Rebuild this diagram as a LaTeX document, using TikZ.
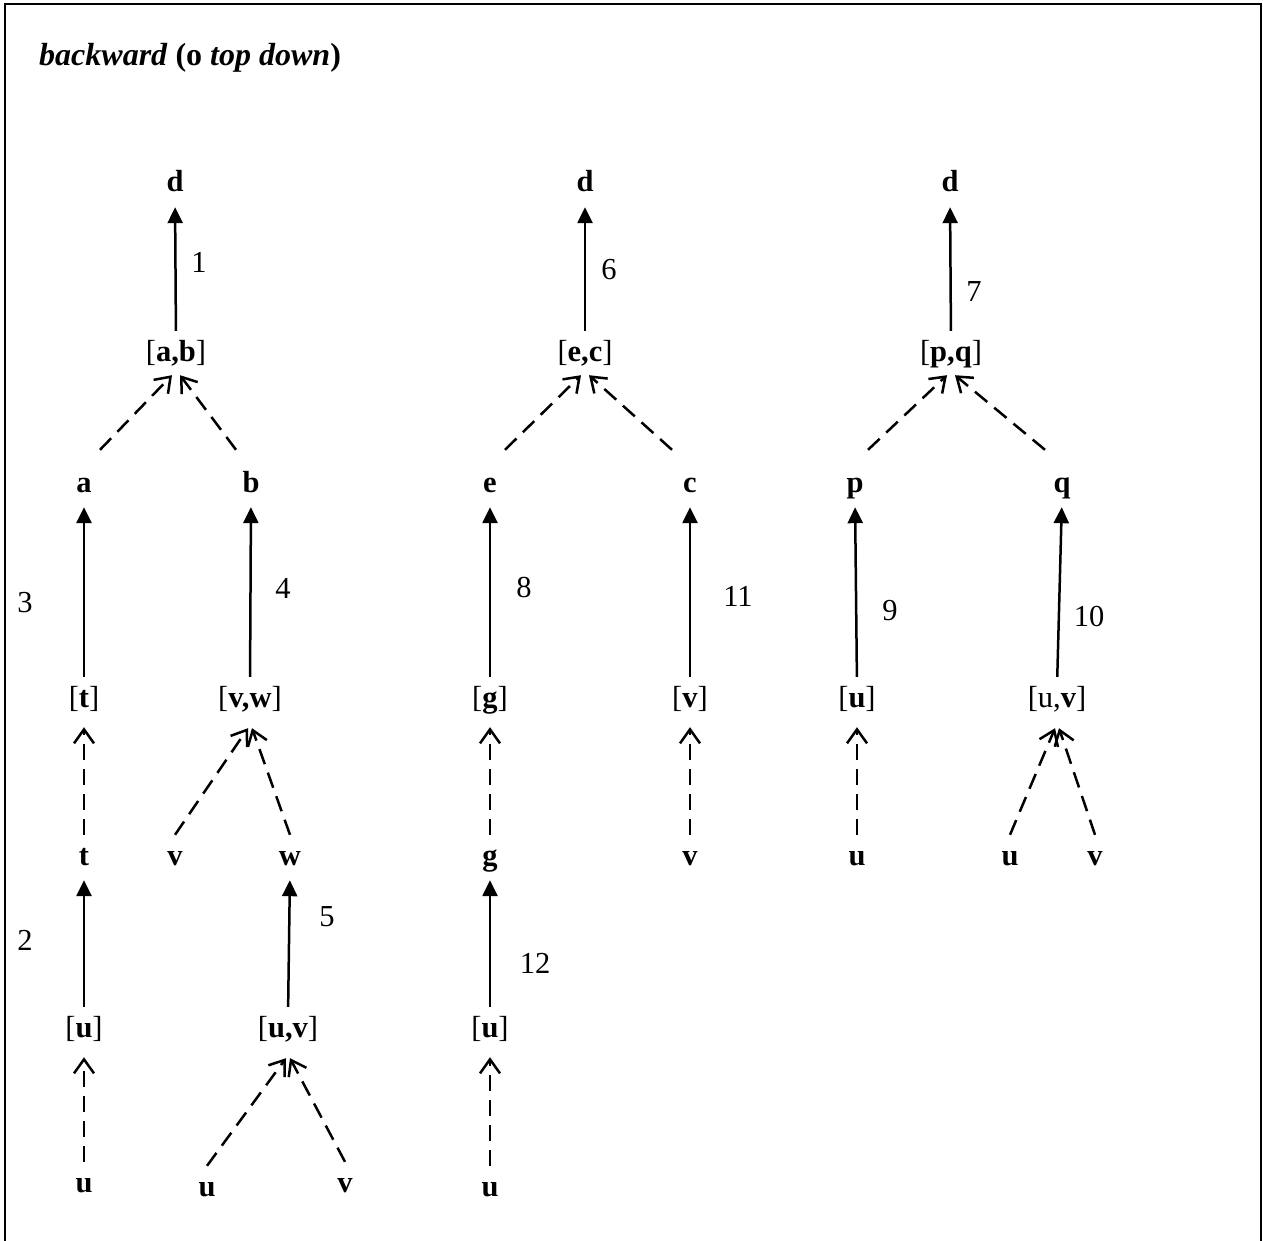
\documentclass[tikz,border=0pt]{standalone}
\usepackage{fontspec}
\setmainfont{Liberation Serif}
\usetikzlibrary{arrows.meta}
\begin{document}
\begin{tikzpicture}[x=1pt,y=-1pt,
  every node/.style={font=\fontsize{30.5}{36}\selectfont, inner sep=0pt},
  lbl/.style={anchor=base, font=\fontsize{30.5}{36}\selectfont\bfseries, text height=20pt, text depth=5pt},
  num/.style={anchor=center},
  solidarr/.style={line width=2.5pt, -{Triangle[length=16pt,width=15pt]}, shorten <=10pt, shorten >=10pt},
  dasharr/.style={line width=2.5pt, dash pattern=on 16pt off 9pt, -{Straight Barb[length=14pt,width=20pt]}},
  vdash/.style={dasharr, shorten <=10pt, shorten >=15pt}]
\useasboundingbox (0,0) rectangle (1263,1241);
\draw[line width=2pt] (5,1241) -- (5,4) -- (1261,4) -- (1261,1241);
\node[anchor=base west, font=\fontsize{32}{38}\selectfont\bfseries] (title) at (39,66) {\textit{backward} (o \textit{top down})};

% tree 1
\node[lbl] (d1) at (175,192) {d};
\node[lbl] (ab) at (176,361) {\mdseries[\textbf{a,b}]};
\node[lbl] (a) at (84,492) {a};
\node[lbl] (b) at (251,492) {b};
\node[lbl] (tt) at (84,707) {\mdseries[\textbf{t}]};
\node[lbl] (vw) at (250,707) {\mdseries[\textbf{v,w}]};
\node[lbl] (t) at (84,865) {t};
\node[lbl] (v1) at (175,865) {v};
\node[lbl] (w) at (290,865) {w};
\node[lbl] (ub1) at (84,1037) {\mdseries[\textbf{u}]};
\node[lbl] (uv1) at (288,1037) {\mdseries[\textbf{u,v}]};
\node[lbl] (u1) at (84,1192) {u};
\node[lbl] (u2) at (207,1196) {u};
\node[lbl] (v2) at (345,1192) {v};

\draw[solidarr] (ab.north) -- (d1.south);
\draw[dasharr] ([xshift=16pt,yshift=22pt]a.north) -- ([xshift=-4pt,yshift=-9pt]ab.south);
\draw[dasharr] ([xshift=-15pt,yshift=22pt]b.north) -- ([xshift=4pt,yshift=-9pt]ab.south);
\draw[solidarr] (tt.north) -- (a.south);
\draw[solidarr] (vw.north) -- (b.south);
\draw[vdash] (t.north) -- (tt.south);
\draw[dasharr] ([yshift=10pt]v1.north) -- ([xshift=-2pt,yshift=-16pt]vw.south);
\draw[dasharr] ([yshift=10pt]w.north) -- ([xshift=2pt,yshift=-16pt]vw.south);
\draw[solidarr] (ub1.north) -- (t.south);
\draw[solidarr] (uv1.north) -- (w.south);
\draw[vdash] (u1.north) -- (ub1.south);
\draw[dasharr] ([yshift=10pt]u2.north) -- ([xshift=-2pt,yshift=-16pt]uv1.south);
\draw[dasharr] ([yshift=10pt]v2.north) -- ([xshift=2pt,yshift=-16pt]uv1.south);

\node[num] (n1) at (199,262) {1};
\node[num] (n3) at (25,603) {3};
\node[num] (n4) at (283,588) {4};
\node[num] (n2) at (25,940) {2};
\node[num] (n5) at (327,917) {5};

% tree 2
\node[lbl] (d2) at (585,192) {d};
\node[lbl] (ec) at (585,361) {\mdseries[\textbf{e,c}]};
\node[lbl] (e) at (490,492) {e};
\node[lbl] (c) at (690,492) {c};
\node[lbl] (gg) at (490,707) {\mdseries[\textbf{g}]};
\node[lbl] (vv) at (690,707) {\mdseries[\textbf{v}]};
\node[lbl] (g) at (490,865) {g};
\node[lbl] (v3) at (690,865) {v};
\node[lbl] (ub2) at (490,1037) {\mdseries[\textbf{u}]};
\node[lbl] (u3) at (490,1196) {u};

\draw[solidarr] (ec.north) -- (d2.south);
\draw[dasharr] ([xshift=15pt,yshift=22pt]e.north) -- ([xshift=-4pt,yshift=-9pt]ec.south);
\draw[dasharr] ([xshift=-18pt,yshift=22pt]c.north) -- ([xshift=4pt,yshift=-9pt]ec.south);
\draw[solidarr] (gg.north) -- (e.south);
\draw[solidarr] (vv.north) -- (c.south);
\draw[vdash] (g.north) -- (gg.south);
\draw[vdash] (v3.north) -- (vv.south);
\draw[solidarr] (ub2.north) -- (g.south);
\draw[vdash] (u3.north) -- (ub2.south);

\node[num] (n6) at (609,270) {6};
\node[num] (n8) at (524,588) {8};
\node[num] (n11) at (738,596) {11};
\node[num] (n12) at (535,963) {12};

% tree 3
\node[lbl] (d3) at (950,192) {d};
\node[lbl] (pq) at (951,361) {\mdseries[\textbf{p,q}]};
\node[lbl] (p) at (855,492) {p};
\node[lbl] (q) at (1062,492) {q};
\node[lbl] (ub3) at (857,707) {\mdseries[\textbf{u}]};
\node[lbl] (uv2) at (1057,707) {\mdseries[u,\textbf{v}]};
\node[lbl] (u4) at (857,865) {u};
\node[lbl] (u5) at (1010,865) {u};
\node[lbl] (v4) at (1095,865) {v};

\draw[solidarr] (pq.north) -- (d3.south);
\draw[dasharr] ([xshift=13pt,yshift=22pt]p.north) -- ([xshift=-4pt,yshift=-9pt]pq.south);
\draw[dasharr] ([xshift=-17pt,yshift=22pt]q.north) -- ([xshift=4pt,yshift=-9pt]pq.south);
\draw[solidarr] (ub3.north) -- (p.south);
\draw[solidarr] (uv2.north) -- (q.south);
\draw[vdash] (u4.north) -- (ub3.south);
\draw[dasharr] ([yshift=10pt]u5.north) -- ([xshift=-2pt,yshift=-16pt]uv2.south);
\draw[dasharr] ([yshift=10pt]v4.north) -- ([xshift=2pt,yshift=-16pt]uv2.south);

\node[num] (n7) at (974,292) {7};
\node[num] (n9) at (890,611) {9};
\node[num] (n10) at (1089,617) {10};
\end{tikzpicture}
\end{document}
